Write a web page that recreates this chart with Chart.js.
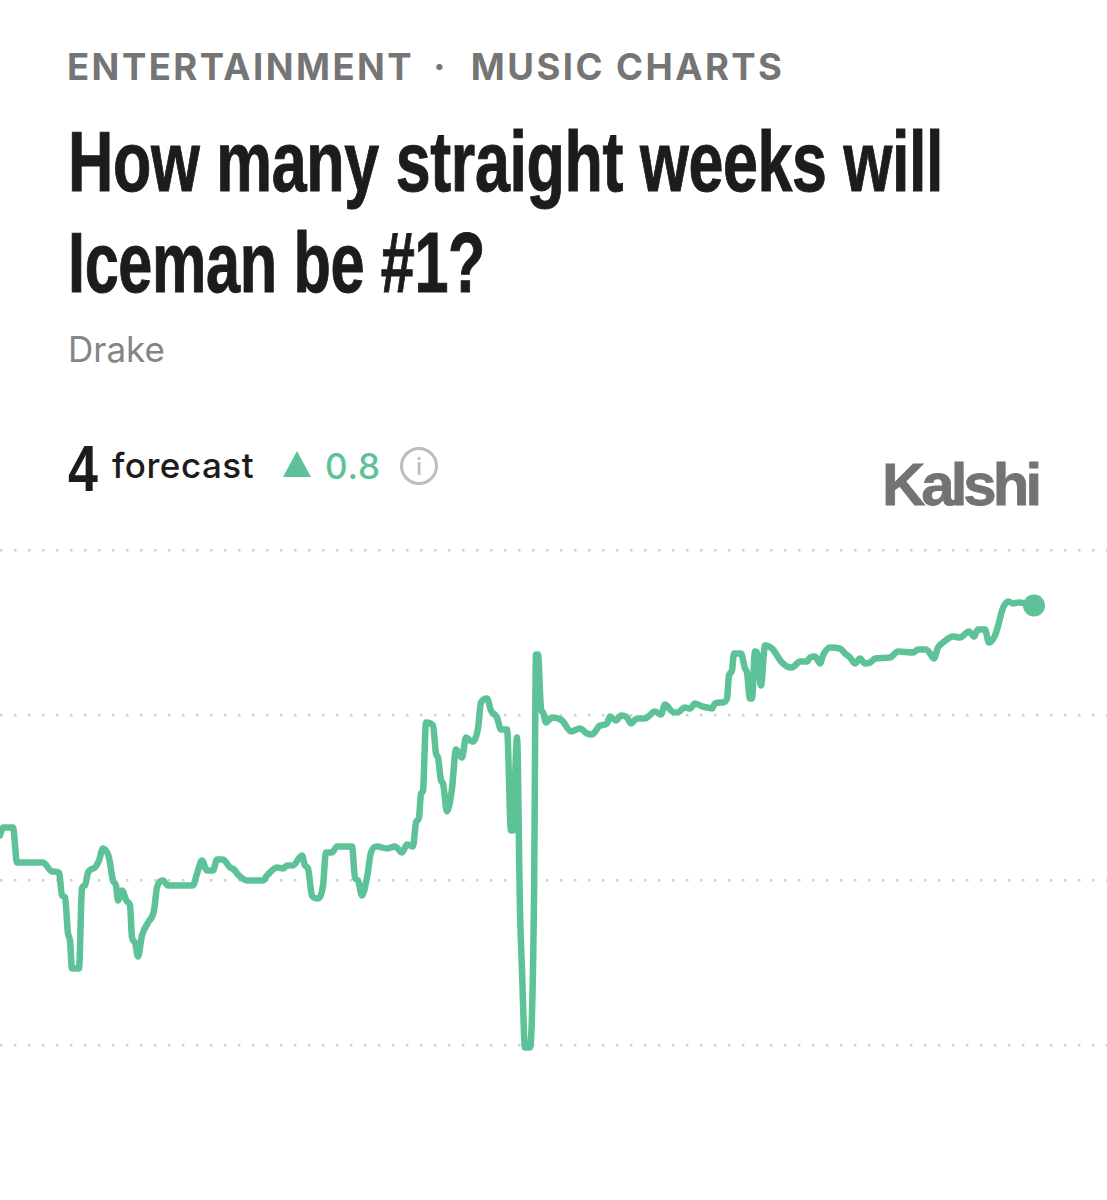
<!DOCTYPE html>
<html><head><meta charset="utf-8">
<style>
html,body{margin:0;padding:0;background:#fff;width:1107px;height:1200px;overflow:hidden}
.t{position:absolute;white-space:nowrap;line-height:1}
#kicker{left:67px;top:45px;font:700 36.5px "Inter",sans-serif;letter-spacing:2.45px;color:#757575}
#kicker span{display:inline-block;margin:0 23px 0 19px}
.title{left:68px;font:700 85px "Liberation Sans",sans-serif;color:#1c1c1c;letter-spacing:-0.5px;transform-origin:0 0;-webkit-text-stroke:1px #1c1c1c}
#sub{left:68px;top:328px;font:400 35px "Inter",sans-serif;color:#858585}
#num{left:68px;top:432px;font:700 64px "Liberation Sans",sans-serif;color:#1c1c1c;transform:scaleX(.84);transform-origin:0 0}
#fc{left:112px;top:444px;font:500 35px "Inter",sans-serif;color:#1c1c1c;letter-spacing:.5px}
#tri{left:283px;top:451px;width:0;height:0;border-left:14px solid transparent;border-right:14px solid transparent;border-bottom:26px solid #5dc297}
#delta{left:325px;top:445px;font:500 35px "Inter",sans-serif;color:#5dc297;letter-spacing:.8px}
#info{left:400px;top:447px;width:32px;height:32px;border:3px solid #bdbdbd;border-radius:50%;text-align:center;font:500 24px/33px "Inter",sans-serif;color:#bdbdbd}
#logo{left:882px;top:450px;font:700 60px "Liberation Sans",sans-serif;color:#737373;letter-spacing:-4px;-webkit-text-stroke:.8px #737373}
#wrap{position:absolute;left:0;top:534px;width:1107px;height:528px}
</style>
<script src="https://cdn.jsdelivr.net/npm/chart.js@4"></script>
</head><body>
<div class="t" id="kicker">ENTERTAINMENT<span>·</span>MUSIC CHARTS</div>
<div class="t title" style="top:113px;transform:scaleX(.738)">How many straight weeks will</div>
<div class="t title" style="top:214px;transform:scaleX(.72)">Iceman be #1?</div>
<div class="t" id="sub">Drake</div>
<div class="t" id="num">4</div>
<div class="t" id="fc">forecast</div>
<div class="t" id="tri"></div>
<div class="t" id="delta">0.8</div>
<div class="t" id="info">i</div>
<div class="t" id="logo">Kalshi</div>
<div id="wrap"><canvas id="c" width="1107" height="528"></canvas></div>
<script>
const gridValues=[1,2,3,4];
const times=[0,3,13,17,43,52,59,62,65,68,70,72,79,82,85,88,95,99,103,109,113,116,118,122,127,130,132,135,138,142,148,154,157,163,168,193,197,202,207,213,217,223,230,234,238,247,263,267,277,283,287,293,302,305,308,312,317,323,326,332,337,352,355,358,362,367,371,377,387,395,402,407,413,416,419,421,423,426,433,436,438,441,443,447,452,456,462,466,472,478,481,487,491,497,501,507,511,513,517,520,522,525,530,534,536,538,541,543,546,552,562,571,580,587,592,600,607,610,616,621,627,631,637,645,655,661,665,672,677,685,690,695,702,708,712,715,723,727,729,732,734,741,745,747,750,752,755,757,761,765,772,782,787,792,800,807,810,815,820,823,830,840,845,850,855,860,865,870,875,890,898,913,918,926,930,934,938,943,953,960,969,974,978,985,989,995,999,1002,1008,1013,1019,1034];
const forecast=[2.273,2.321,2.321,2.109,2.109,2.055,2.048,1.909,1.897,1.679,1.636,1.467,1.467,1.952,1.970,2.048,2.079,2.121,2.194,2.139,2.0,1.970,1.879,1.939,1.873,1.848,1.655,1.624,1.539,1.667,1.745,1.818,1.958,2.0,1.970,1.970,2.042,2.121,2.061,2.061,2.127,2.127,2.079,2.067,2.036,2.0,2.0,2.030,2.079,2.073,2.091,2.091,2.152,2.091,2.073,1.909,1.891,1.970,2.170,2.170,2.206,2.206,2.018,2.0,1.909,2.018,2.170,2.206,2.194,2.206,2.170,2.218,2.206,2.352,2.382,2.527,2.545,2.958,2.939,2.770,2.745,2.606,2.588,2.418,2.558,2.794,2.745,2.867,2.842,2.921,3.079,3.103,3.030,2.988,2.915,2.915,2.303,2.303,2.867,1.818,1.455,0.988,0.988,1.879,3.370,3.370,3.042,3.018,2.958,2.988,2.970,2.903,2.921,2.891,2.885,2.939,2.952,2.994,2.970,3.0,2.988,2.952,2.982,2.982,3.024,3.006,3.067,3.024,3.018,3.048,3.042,3.073,3.055,3.048,3.042,3.073,3.079,3.103,3.242,3.273,3.376,3.376,3.285,3.261,3.103,3.103,3.388,3.382,3.182,3.424,3.406,3.321,3.297,3.291,3.327,3.327,3.352,3.358,3.315,3.364,3.412,3.406,3.376,3.352,3.315,3.345,3.315,3.321,3.345,3.352,3.388,3.382,3.400,3.400,3.376,3.345,3.412,3.442,3.479,3.473,3.509,3.479,3.521,3.521,3.442,3.485,3.564,3.636,3.691,3.679,3.685,3.667];
const green="#5dc297";
new Chart(document.getElementById("c"),{
 type:"line",
 data:{labels:times,datasets:[{data:times.map((t,i)=>({x:t,y:forecast[i]})),
   borderColor:green,backgroundColor:green,borderWidth:6.5,cubicInterpolationMode:"monotone",
   borderJoinStyle:"round",borderCapStyle:"round",clip:false,
   pointBorderWidth:0,
   pointRadius:c=>c.dataIndex===times.length-1?11:0}]},
 options:{responsive:false,animation:false,
  layout:{padding:0,autoPadding:false},
  plugins:{legend:{display:false},tooltip:{enabled:false}},
  scales:{
   x:{type:"linear",min:0,max:1107,display:false},
   y:{min:0.9,max:4.1,
      afterBuildTicks:s=>{s.ticks=gridValues.map(v=>({value:v}))},
      grid:{color:"#cfcfcf",lineWidth:2.5,drawTicks:false},
      border:{display:false,dash:[2.5,11.5],dashOffset:0},
      ticks:{display:false}}
  }}
});
</script>
</body></html>
